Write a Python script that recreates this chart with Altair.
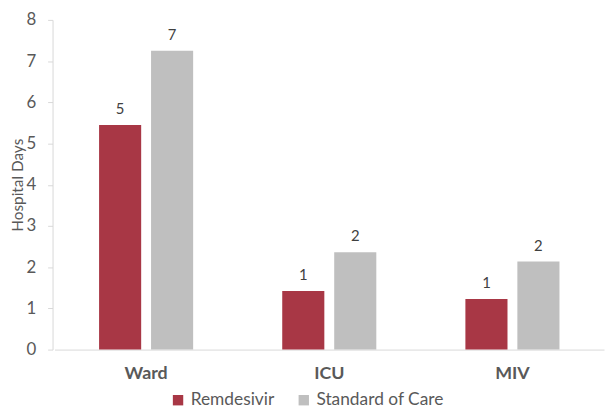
import altair as alt
import pandas as pd

categories = ["Ward", "ICU", "MIV"]
series = ["Remdesivir", "Standard of Care"]
remdesivir = [5.45, 1.42, 1.23]
standard_of_care = [7.25, 2.36, 2.14]
labels_remdesivir = ["5", "1", "1"]
labels_soc = ["7", "2", "2"]
y_ticks = [0, 1, 2, 3, 4, 5, 6, 7, 8]

rows = []
for c, v, l in zip(categories, remdesivir, labels_remdesivir):
    rows.append({"cat": c, "group": series[0], "value": v, "label": l})
for c, v, l in zip(categories, standard_of_care, labels_soc):
    rows.append({"cat": c, "group": series[1], "value": v, "label": l})
df = pd.DataFrame(rows)

FONT = "Lato"
GRAY = "#595959"
LINE = "#D9D9D9"

x = alt.X("cat:N", sort=categories, title=None,
          scale=alt.Scale(paddingInner=0, paddingOuter=0, range=[2, 557]),
          axis=alt.Axis(labelAngle=0, ticks=False, domainColor=LINE, domainWidth=1,
                        labelFont=FONT, labelFontWeight="bold", labelFontSize=18,
                        labelColor=GRAY, labelPadding=15))
xo = alt.XOffset("group:N", sort=series,
                 scale=alt.Scale(paddingInner=0.19, paddingOuter=0.857))
y = alt.Y("value:Q", title="Hospital Days",
          scale=alt.Scale(domain=[0, 8], nice=False),
          axis=alt.Axis(values=y_ticks, grid=False, domainColor=LINE, tickColor=LINE,
                        tickSize=5, labelPadding=12, labelFont=FONT, labelFontSize=17,
                        labelColor=GRAY, titleFont=FONT, titleFontSize=15.5,
                        titleFontWeight="normal", titleColor=GRAY,
                        titleX=-30, titleBaseline="alphabetic"))
color = alt.Color("group:N", sort=series,
                  scale=alt.Scale(domain=series, range=["#A83745", "#BFBFBF"]),
                  legend=alt.Legend(title=None, orient="none", legendX=118, legendY=375,
                                    direction="horizontal", symbolType="square",
                                    symbolSize=110, symbolStrokeWidth=0,
                                    labelFont=FONT, labelFontSize=17.5, labelColor=GRAY,
                                    labelOffset=4, columnPadding=21))

bars = alt.Chart(df).mark_bar().encode(x=x, xOffset=xo, y=y, color=color)
text = alt.Chart(df).mark_text(dy=-11, baseline="alphabetic", font=FONT,
                               fontSize=15, color="#404040").encode(
    x=x, xOffset=xo, y=y, text="label:N")

chart = alt.layer(bars, text).properties(
    width=558, height=333,
    autosize=alt.AutoSizeParams(type="none"),
    padding={"left": 45, "top": 10, "right": 0, "bottom": 60},
).configure_view(stroke=None)

chart.save("out.html", embed_options={"renderer": "svg", "actions": False})
